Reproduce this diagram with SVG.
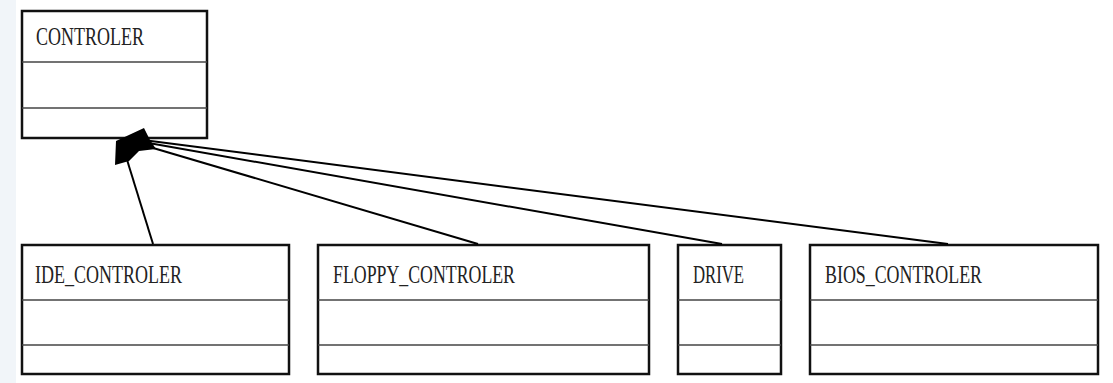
<svg xmlns="http://www.w3.org/2000/svg" width="1113" height="383" viewBox="0 0 1113 383">
  <style>
    .box { fill: #ffffff; stroke: #111111; stroke-width: 2.5; }
    .div { stroke: #444444; stroke-width: 1.5; }
    .lbl { font-family: "Liberation Serif", "DejaVu Serif", serif; font-size: 25px; fill: #222222; }
    .edge { stroke: #000000; stroke-width: 2; fill: none; }
  </style>
  <rect x="0" y="0" width="1113" height="383" fill="#ffffff"/>
  <rect x="0" y="0" width="16" height="383" fill="#f1f5f9"/>

  <g id="controler">
    <rect class="box" x="22" y="11" width="185" height="127"/>
    <line class="div" x1="22" y1="62" x2="207" y2="62"/>
    <line class="div" x1="22" y1="108" x2="207" y2="108"/>
    <text class="lbl" x="36" y="45" textLength="108" lengthAdjust="spacingAndGlyphs">CONTROLER</text>
  </g>

  <g id="ide_controler">
    <rect class="box" x="22" y="245" width="267" height="129"/>
    <line class="div" x1="22" y1="300" x2="289" y2="300"/>
    <line class="div" x1="22" y1="345" x2="289" y2="345"/>
    <text class="lbl" x="35" y="283" textLength="147" lengthAdjust="spacingAndGlyphs">IDE_CONTROLER</text>
  </g>

  <g id="floppy_controler">
    <rect class="box" x="318" y="245" width="331" height="129"/>
    <line class="div" x1="318" y1="300" x2="649" y2="300"/>
    <line class="div" x1="318" y1="345" x2="649" y2="345"/>
    <text class="lbl" x="333" y="283" textLength="182" lengthAdjust="spacingAndGlyphs">FLOPPY_CONTROLER</text>
  </g>

  <g id="drive">
    <rect class="box" x="678" y="245" width="103" height="129"/>
    <line class="div" x1="678" y1="300" x2="781" y2="300"/>
    <line class="div" x1="678" y1="345" x2="781" y2="345"/>
    <text class="lbl" x="693" y="283" textLength="51" lengthAdjust="spacingAndGlyphs">DRIVE</text>
  </g>

  <g id="bios_controler">
    <rect class="box" x="810" y="245" width="288" height="129"/>
    <line class="div" x1="810" y1="300" x2="1098" y2="300"/>
    <line class="div" x1="810" y1="345" x2="1098" y2="345"/>
    <text class="lbl" x="825" y="283" textLength="157" lengthAdjust="spacingAndGlyphs">BIOS_CONTROLER</text>
  </g>

  <g id="connectors">
    <line class="edge" x1="153" y1="244" x2="124" y2="150"/>
    <line class="edge" x1="478" y1="244" x2="143" y2="145"/>
    <line class="edge" x1="722" y1="244" x2="143" y2="142"/>
    <line class="edge" x1="948" y1="244" x2="143" y2="140"/>
    <polygon points="144,128 116,141 115,165 129,161 139,151 156,149 150,140" fill="#000000"/>
  </g>
</svg>
